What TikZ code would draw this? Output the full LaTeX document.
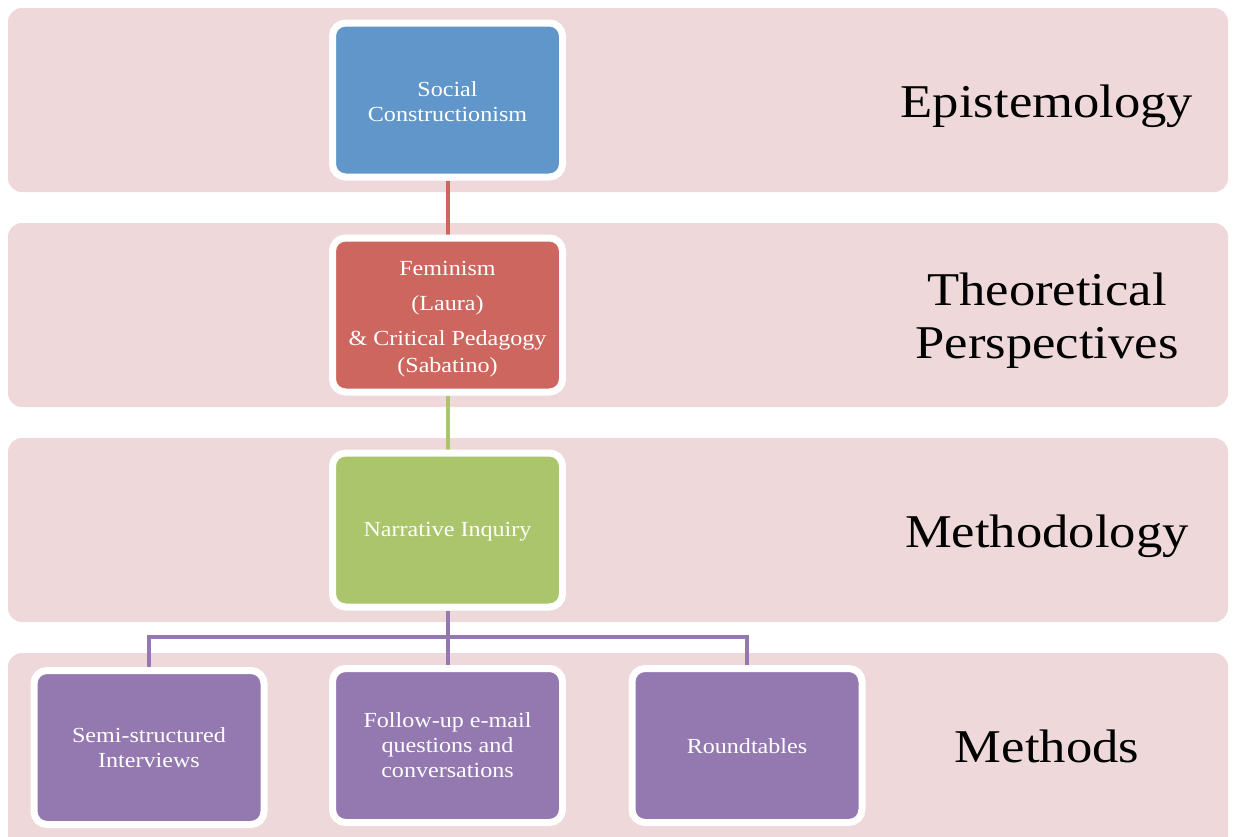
\documentclass[tikz,border=0pt]{standalone}
\usepackage{fontspec}
\setmainfont{Liberation Serif}[FakeStretch=1.12]
\newfontfamily\stfam{Liberation Serif}[FakeStretch=1.12]
\newcommand\boxfont{\stfam\fontsize{21.5}{25}\selectfont}
\newcommand\lblfont{\stfam\fontsize{47}{53}\selectfont}
\usetikzlibrary{shadows}
\definecolor{bandc}{HTML}{EED8DA}
\definecolor{cblue}{HTML}{6096C9}
\definecolor{cred}{HTML}{CD665E}
\definecolor{cgreen}{HTML}{ABC56C}
\definecolor{cpurple}{HTML}{9379B0}
\pgfdeclarelayer{bg}
\pgfdeclarelayer{lines}
\pgfsetlayers{bg,lines,main}
\begin{document}
\begin{tikzpicture}[x=1pt,y=-1pt,
  bandbox/.style={fill=bandc, rounded corners=14pt},
  cbox/.style={draw=white, line width=7pt, rounded corners=13pt,
    minimum width=230pt, minimum height=154pt, inner sep=0pt,
    align=center, text=white, font=\boxfont,
    drop shadow={opacity=0.22, shadow xshift=0pt, shadow yshift=-3pt}},
  lbl/.style={font=\lblfont, align=center, text=black, inner sep=0pt},
  conn/.style={line width=4pt}]
\useasboundingbox (0,0) rectangle (1235,836);
\begin{pgfonlayer}{bg}
  \fill[white] (0,0) rectangle (1235,836);
  \path[bandbox] (8,8) rectangle (1228,192);
  \path[bandbox] (8,223) rectangle (1228,407);
  \path[bandbox] (8,438) rectangle (1228,622);
  \begin{scope}
    \clip (0,0) rectangle (1235,836);
    \path[bandbox] (8,653) rectangle (1228,880);
  \end{scope}
\end{pgfonlayer}

\node[cbox, fill=cblue] (b1) at (447.5,100) {\rule{0pt}{19pt}Social\\Constructionism};
\node[cbox, fill=cred] (b2) at (447.5,315) {\rule{0pt}{22pt}Feminism\\[10pt](Laura)\\[10pt]\& Critical Pedagogy\\[2pt](Sabatino)};
\node[cbox, fill=cgreen, text height=12pt, text depth=0pt] (b3) at (447.5,530) {Narrative Inquiry};
\node[cbox, fill=cpurple] (b4) at (149,747.5) {Semi-structured\\Interviews};
\node[cbox, fill=cpurple] (b5) at (447.5,745.5) {Follow-up e-mail\\questions and\\conversations};
\node[cbox, fill=cpurple] (b6) at (747,745.5) {\rule{0pt}{17pt}Roundtables};

\node[lbl] (l1) at (1047,106) {Epistemology};
\node[lbl] (l2) at (1047,321) {Theoretical\\Perspectives};
\node[lbl] (l3) at (1047,536) {Methodology};
\node[lbl] (l4) at (1047,746) {Methods};

\coordinate (hbar) at (447.5,637);
\begin{pgfonlayer}{lines}
  \draw[conn, cred] (b1.south) -- (b2.north);
  \draw[conn, cgreen] (b2.south) -- (b3.north);
  \draw[conn, cpurple] (b3.south) -- (b5.north);
  \draw[conn, cpurple] (b4.north) -- (b4.north |- hbar) -| (b6.north);
\end{pgfonlayer}
\end{tikzpicture}
\end{document}
